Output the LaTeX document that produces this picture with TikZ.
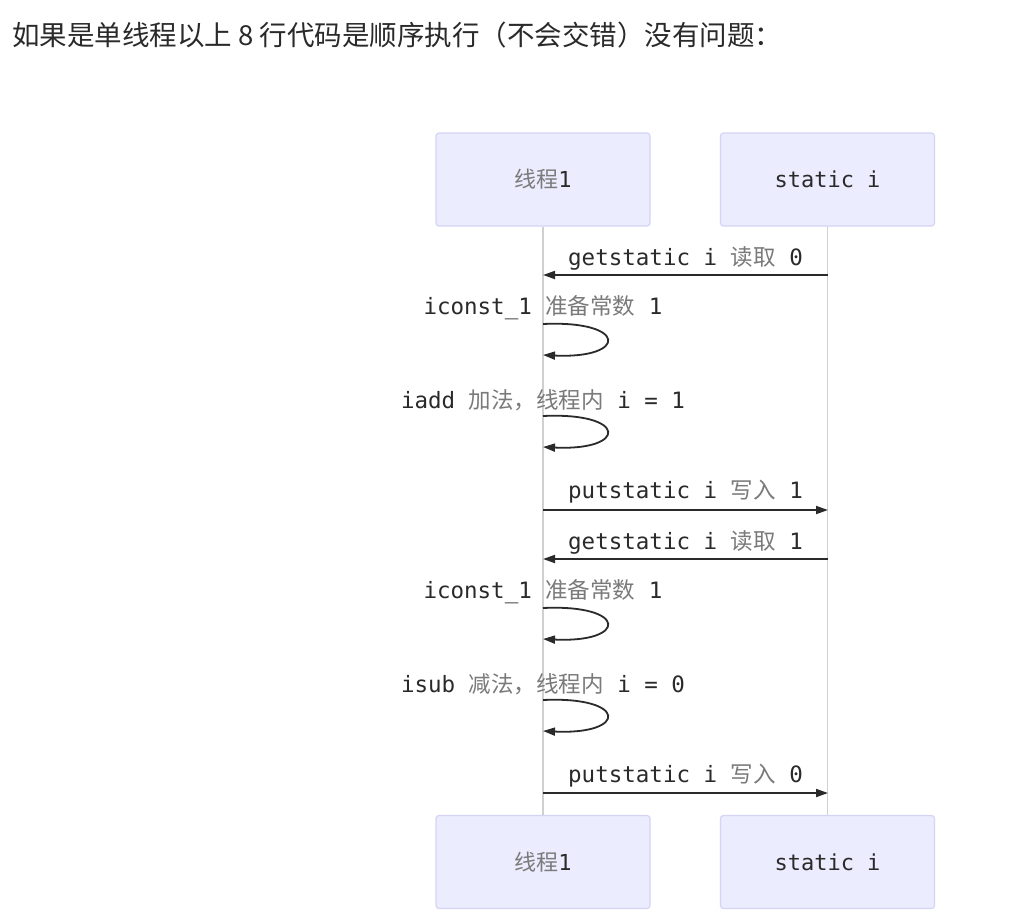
\documentclass[tikz,border=0pt]{standalone}
\usepackage{fontspec}
\usetikzlibrary{arrows.meta}
\newfontfamily\cjkfont{Noto Sans CJK SC}
\newfontfamily\monofont{DejaVu Sans Mono}
\definecolor{boxfill}{HTML}{ECECFF}
\definecolor{boxline}{HTML}{D4D4F7}
\definecolor{lifeline}{HTML}{D0D0D0}
\definecolor{ink}{HTML}{2A2A2A}
\definecolor{zhgray}{HTML}{7A7A7A}
\newcommand{\ZH}[1]{{\cjkfont\color{zhgray}#1}}
\tikzset{
  actor/.style={draw=boxline, line width=1.2pt, fill=boxfill, rounded corners=3pt,
    minimum width=214pt, minimum height=93pt, inner sep=0pt,
    font=\monofont\fontsize{22}{26}\selectfont, text=ink},
  life/.style={draw=lifeline, line width=1.5pt},
  msg/.style={draw=ink, line width=1.8pt, -{Triangle[length=12pt,width=8pt]}},
  lbl/.style={inner sep=0pt, font=\monofont\fontsize{22.5}{26}\selectfont, text=ink},
  ttl/.style={inner sep=0pt, anchor=west, font=\cjkfont\fontsize{27.5}{32}\selectfont, text=ink}
}
\begin{document}
\begin{tikzpicture}[x=1pt,y=-1pt]
\path[use as bounding box, fill=white] (0,0) rectangle (1024,922);
\node[ttl] (title) at (12,35) {如果是单线程以上 8 行代码是顺序执行（不会交错）没有问题：};

\node[actor] (t1top) at (543,179.5) {\ZH{线程}1};
\node[actor] (sitop) at (827.5,179.5) {static i};
\node[actor] (t1bot) at (543,862) {\ZH{线程}1};
\node[actor] (sibot) at (827.5,862) {static i};

\draw[life] (t1top.south) -- (t1bot.north);
\draw[life] (sitop.south) -- (sibot.north);

% message 1
\coordinate (a1) at (543,275); \coordinate (b1) at (828,275);
\draw[msg] (b1) -- (a1);
\node[lbl] (l1) at (685.5,258) {getstatic i \ZH{读取} 0};
% loop 2
\coordinate (a2) at (543,324); \coordinate (b2) at (543,355);
\draw[msg] (a2) .. controls (628,320) and (628,359) .. (b2);
\node[lbl] (l2) at (543,308) {iconst\_1 \ZH{准备常数} 1};
% loop 3
\coordinate (a3) at (543,416); \coordinate (b3) at (543,447);
\draw[msg] (a3) .. controls (628,412) and (628,451) .. (b3);
\node[lbl] (l3) at (543,400) {iadd \ZH{加法，线程内} i = 1};
% message 4
\coordinate (a4) at (543,510); \coordinate (b4) at (828,510);
\draw[msg] (a4) -- (b4);
\node[lbl] (l4) at (685.5,492) {putstatic i \ZH{写入} 1};
% message 5
\coordinate (a5) at (543,559); \coordinate (b5) at (828,559);
\draw[msg] (b5) -- (a5);
\node[lbl] (l5) at (685.5,542) {getstatic i \ZH{读取} 1};
% loop 6
\coordinate (a6) at (543,608); \coordinate (b6) at (543,639);
\draw[msg] (a6) .. controls (628,604) and (628,643) .. (b6);
\node[lbl] (l6) at (543,592) {iconst\_1 \ZH{准备常数} 1};
% loop 7
\coordinate (a7) at (543,700); \coordinate (b7) at (543,731);
\draw[msg] (a7) .. controls (628,696) and (628,735) .. (b7);
\node[lbl] (l7) at (543,684) {isub \ZH{减法，线程内} i = 0};
% message 8
\coordinate (a8) at (543,793); \coordinate (b8) at (828,793);
\draw[msg] (a8) -- (b8);
\node[lbl] (l8) at (685.5,776) {putstatic i \ZH{写入} 0};
\end{tikzpicture}
\end{document}
